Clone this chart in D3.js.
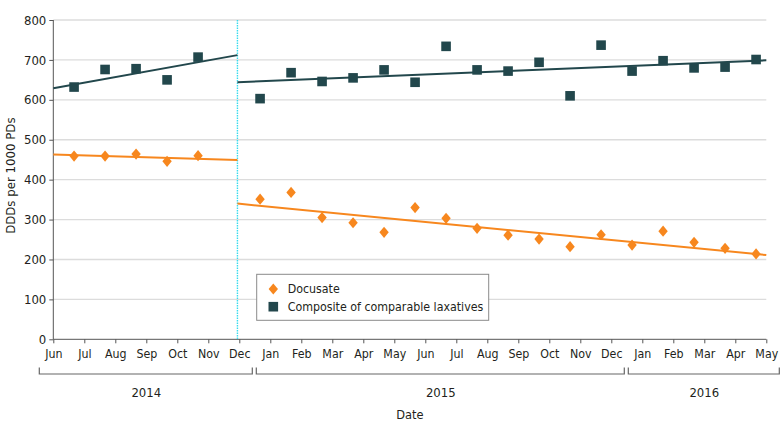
<!DOCTYPE html>
<html><head><meta charset="utf-8">
<script src="https://cdn.jsdelivr.net/npm/d3@7"></script>
<style>
html,body{margin:0;padding:0;background:#fff;}
svg text{font-family:"DejaVu Sans Condensed","DejaVu Sans",sans-serif;fill:#231f20;}
</style></head>
<body><svg id="c" width="783" height="432"></svg>
<script>
// ---- data ----
const monthLabels = ["Jun","Jul","Aug","Sep","Oct","Nov","Dec","Jan","Feb","Mar","Apr","May","Jun","Jul","Aug","Sep","Oct","Nov","Dec","Jan","Feb","Mar","Apr","May"];
const years = ["2014","2015","2016"];
const yearMonthSpans = [[0,6],[7,18],[19,23]];
const obsMonth = [0,1,2,3,4,6,7,8,9,10,11,12,13,14,15,16,17,18,19,20,21,22];
const docusate = [459,459,464,446,460,351,368,305,292,268,330,303,278,261,251,232,262,236,271,243,228,214];
const composite = [632,676,678,650,707,603,668,646,655,675,644,734,675,672,694,610,737,672,698,680,682,701];
const interruption = 5.94;
const docusateTrendPre = [[0,463],[5.94,449]];
const docusateTrendPost = [[5.94,340],[23,211]];
const compositeTrendPre = [[0,629],[5.94,712]];
const compositeTrendPost = [[5.94,644],[23,699]];
const yTicks = [0,100,200,300,400,500,600,700,800];

// ---- layout ----
const FONT = "'DejaVu Sans Condensed','DejaVu Sans',sans-serif";
const FS = 12.3;
const svg = d3.select("#c");
const X0 = 53.3, X1 = 766.3, Y0 = 339.3, Y1 = 20;
const x = d3.scaleLinear().domain([0,23]).range([X0,X1]);
const y = d3.scaleLinear().domain([0,800]).range([Y0,Y1]);
const obsOffset = 0.67;
const orange = "#f7871e", teal = "#22474c";

// gridlines
svg.append("g").selectAll("line").data(yTicks.filter(d=>d>0)).join("line")
  .attr("x1",X0).attr("x2",X1).attr("y1",d=>y(d)).attr("y2",d=>y(d))
  .attr("stroke","#dcdcdc").attr("stroke-width",1.3);

// y axis
const ya = svg.append("g").attr("transform",`translate(${X0},0)`)
  .call(d3.axisLeft(y).tickValues(yTicks).tickSize(4).tickPadding(3));
ya.select(".domain").attr("stroke","#555").attr("d",`M0,${Y0}V${Y1}`);
ya.selectAll(".tick line").attr("stroke","#555");
ya.selectAll("text").attr("font-size",FS+0.7).style("font-family",FONT).attr("fill","#231f20");

// x axis
const xa = svg.append("g").attr("transform",`translate(0,${Y0})`)
  .call(d3.axisBottom(x).tickValues(d3.range(24)).tickFormat(i=>monthLabels[i]).tickSize(4).tickPadding(6));
xa.select(".domain").attr("stroke","#555").attr("d",`M${X0},0H${X1}`);
xa.selectAll(".tick line").attr("stroke","#555");
xa.selectAll("text").attr("font-size",FS).style("font-family",FONT).attr("fill","#231f20");

// year brackets
const by = 374, bt = 367.5;
yearMonthSpans.forEach((s,i)=>{
  const a = x(s[0]-0.5)+1.5, b = x(s[1]+0.5)-2.5;
  svg.append("path").attr("d",`M${a},${bt}V${by}H${b}V${bt}`)
    .attr("fill","none").attr("stroke","#666").attr("stroke-width",1.2);
  svg.append("text").attr("x",(x(s[0]-0.5)+x(s[1]+0.5))/2).attr("y",396.5)
    .attr("text-anchor","middle").attr("font-size",FS+0.7).text(years[i]);
});
svg.append("text").attr("x",(X0+X1)/2).attr("y",418.5).attr("text-anchor","middle").attr("font-size",FS+0.4).text("Date");
svg.append("text").attr("transform",`translate(15,${(Y0+Y1)/2 - 4}) rotate(-90)`)
  .attr("text-anchor","middle").attr("font-size",FS+0.8).text("DDDs per 1000 PDs");

// interruption line
svg.append("line").attr("x1",x(interruption)).attr("x2",x(interruption)).attr("y1",Y1).attr("y2",Y0)
  .attr("stroke","#38dcee").attr("stroke-width",1.4).attr("stroke-dasharray","1.5,1");

// trend lines
const line = d3.line().x(d=>x(d[0])).y(d=>y(d[1]));
[[docusateTrendPre,orange],[docusateTrendPost,orange],[compositeTrendPre,teal],[compositeTrendPost,teal]].forEach(([d,c])=>{
  svg.append("path").attr("d",line(d)).attr("stroke",c).attr("stroke-width",2).attr("fill","none");
});

// markers
const diamond = "M0,-5.6L4.7,0L0,5.6L-4.7,0Z";
const SQ = 9.6;
svg.append("g").selectAll("rect").data(composite).join("rect")
  .attr("x",(d,i)=>x(obsMonth[i]+obsOffset)-SQ/2).attr("y",d=>y(d)-SQ/2)
  .attr("width",SQ).attr("height",SQ).attr("fill",teal);
svg.append("g").selectAll("path").data(docusate).join("path")
  .attr("transform",(d,i)=>`translate(${x(obsMonth[i]+obsOffset)},${y(d)})`)
  .attr("d",diamond).attr("fill",orange);

// legend
const lg = svg.append("g");
lg.append("rect").attr("x",256.7).attr("y",274.3).attr("width",232).attr("height",46)
  .attr("fill","#fff").attr("stroke","#8a8a8a").attr("stroke-width",1);
lg.append("path").attr("transform","translate(273.3,289)").attr("d",diamond).attr("fill",orange);
lg.append("rect").attr("x",273.3-SQ/2).attr("y",306.7-SQ/2).attr("width",SQ).attr("height",SQ).attr("fill",teal);
lg.append("text").attr("x",287.7).attr("y",289).attr("dy","0.35em").attr("font-size",FS).text("Docusate");
lg.append("text").attr("x",287.7).attr("y",306.7).attr("dy","0.35em").attr("font-size",FS).text("Composite of comparable laxatives");
</script></body></html>
